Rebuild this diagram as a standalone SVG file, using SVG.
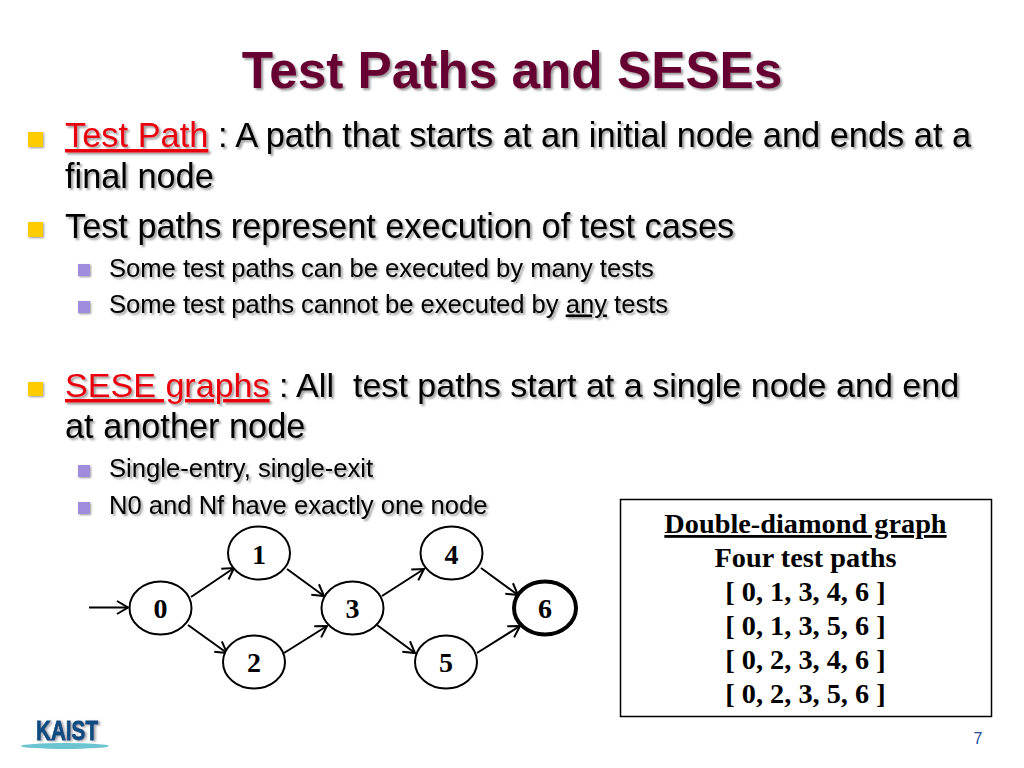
<svg xmlns="http://www.w3.org/2000/svg" width="1024" height="768" viewBox="0 0 1024 768">
<style>
text{font-family:"Liberation Sans",Arial,sans-serif;white-space:pre;text-decoration-skip-ink:none}
.sh{filter:url(#ds)}
.title{font-size:51.3px;font-weight:700;fill:#660033;text-anchor:middle}
.l1{font-size:34.3px;fill:#000}
.l2{font-size:25.6px;fill:#000}
.red{fill:#e8000f;text-decoration:underline}
.u{text-decoration:underline}
.b1{fill:#ffcc00;filter:url(#dsb)}
.b2{fill:#a08cdc;filter:url(#dsb)}
.n{fill:#fff;stroke:#000;stroke-width:2}
.nt{font-family:"Liberation Serif","Times New Roman",serif;font-size:28px;font-weight:700;text-anchor:middle}
.e{fill:none;stroke:#000;stroke-width:2;marker-end:url(#arr)}
.bt{font-family:"Liberation Serif","Times New Roman",serif;font-size:28.3px;font-weight:700;text-anchor:middle}
</style>
<defs>
<filter id="ds" x="-5%" y="-20%" width="110%" height="140%"><feDropShadow dx="2" dy="2" stdDeviation="1" flood-color="#000" flood-opacity="0.4"/></filter>
<filter id="dsb" x="-30%" y="-30%" width="170%" height="170%"><feDropShadow dx="1" dy="1" stdDeviation="1" flood-color="#000" flood-opacity="0.4"/></filter>
<filter id="bl" x="-10%" y="-50%" width="120%" height="200%"><feGaussianBlur stdDeviation="0.7"/></filter>
<filter id="ls" x="-10%" y="-20%" width="120%" height="140%"><feDropShadow dx="2" dy="1" stdDeviation="0.8" flood-color="#667" flood-opacity="0.6"/></filter>
<marker id="arr" markerUnits="userSpaceOnUse" markerWidth="18" markerHeight="18" refX="14" refY="9" orient="auto"><path d="M3 2.500L14 9L3 15.500" fill="none" stroke="#000" stroke-width="2"/></marker>
</defs>
<rect width="1024" height="768" fill="#fff"/>
<g id="title"><text class="title sh" x="512" y="88">Test Paths and SESEs</text></g>
<g id="body">
<rect class="b1" x="28" y="132" width="15" height="15"/>
<text class="l1 sh" style="font-size:34.4px" x="65" y="147"><tspan class="red">Test Path</tspan> : A path that starts at an initial node and ends at a</text>
<text class="l1 sh" x="65" y="188">final node</text>
<rect class="b1" x="28" y="222" width="15" height="15"/>
<text class="l1 sh" x="65" y="238">Test paths represent execution of test cases</text>
<rect class="b2" x="78" y="264" width="12" height="12"/>
<text class="l2 sh" x="109" y="276.500">Some test paths can be executed by many tests</text>
<rect class="b2" x="78" y="301" width="12" height="12"/>
<text class="l2 sh" x="109" y="312.500">Some test paths cannot be executed by <tspan class="u">any</tspan> tests</text>
<rect class="b1" x="28" y="382" width="15" height="14"/>
<text class="l1 sh" style="font-size:34.1px" x="65" y="397"><tspan class="red">SESE graphs</tspan> : All  test paths start at a single node and end</text>
<text class="l1 sh" x="65" y="438">at another node</text>
<rect class="b2" x="78" y="465" width="12" height="12"/>
<text class="l2 sh" x="109" y="477">Single-entry, single-exit</text>
<rect class="b2" x="78" y="502" width="12" height="12"/>
<text class="l2 sh" x="109" y="514">N0 and Nf have exactly one node</text>
</g>
<g id="connectors">
<path class="e" d="M89 607.500H128"/>
<path class="e" d="M191 597L234 568"/>
<path class="e" d="M188 625L227 653"/>
<path class="e" d="M287 569L324 596"/>
<path class="e" d="M284 653L327 626"/>
<path class="e" d="M382 596L424 569"/>
<path class="e" d="M377 625L415 653"/>
<path class="e" d="M481 568L518 595"/>
<path class="e" d="M477 653L520 626"/>
</g>
<g id="node0"><ellipse class="n" cx="160.500" cy="608" rx="31" ry="26.500"/><text class="nt" x="160.500" y="618">0</text></g>
<g id="node1"><ellipse class="n" cx="259" cy="553" rx="31" ry="26.500"/><text class="nt" x="259" y="564">1</text></g>
<g id="node2"><ellipse class="n" cx="254" cy="662" rx="31" ry="26.500"/><text class="nt" x="254" y="672">2</text></g>
<g id="node3"><ellipse class="n" cx="352.500" cy="608" rx="31" ry="26.500"/><text class="nt" x="352.500" y="618">3</text></g>
<g id="node4"><ellipse class="n" cx="451.500" cy="553" rx="31" ry="26.500"/><text class="nt" x="451.500" y="564">4</text></g>
<g id="node5"><ellipse class="n" cx="446" cy="662" rx="31" ry="26.500"/><text class="nt" x="446" y="672">5</text></g>
<g id="node6"><ellipse class="n" style="stroke-width:4" cx="545" cy="608" rx="31" ry="26.500"/><text class="nt" x="545" y="618">6</text></g>
<g id="legend">
<rect x="620.500" y="499.500" width="371" height="217" fill="#fff" stroke="#000" stroke-width="1.500"/>
<text class="bt u" x="805.500" y="533">Double-diamond graph</text>
<text class="bt" x="805.500" y="567">Four test paths</text>
<text class="bt" x="805.500" y="601">[ 0, 1, 3, 4, 6 ]</text>
<text class="bt" x="805.500" y="635">[ 0, 1, 3, 5, 6 ]</text>
<text class="bt" x="805.500" y="669">[ 0, 2, 3, 4, 6 ]</text>
<text class="bt" x="805.500" y="703">[ 0, 2, 3, 5, 6 ]</text>
</g>
<g id="logo">
<ellipse cx="65" cy="746" rx="44" ry="3" fill="#6cc4d0" filter="url(#bl)"/>
<path d="M30 750.500H100" stroke="#b5bcc4" stroke-width="1.500" filter="url(#bl)"/>
<text x="67" y="740" text-anchor="middle" font-size="27" font-weight="700" fill="#0f4c81" stroke="#0f4c81" stroke-width="0.800" textLength="62" lengthAdjust="spacingAndGlyphs" filter="url(#ls)">KAIST</text>
</g>
<text x="978" y="744" text-anchor="middle" font-size="16" fill="#1f4e9c">7</text>
</svg>
